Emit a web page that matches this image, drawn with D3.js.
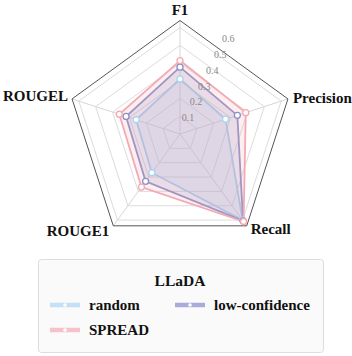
<!DOCTYPE html>
<html>
<head>
<meta charset="utf-8">
<script src="https://cdn.jsdelivr.net/npm/d3@7"></script>
<style>
  body { margin: 0; background: #fff; }
  svg { display: block; }
  svg text { font-family: "Liberation Serif", "Times New Roman", "DejaVu Serif", serif; }
</style>
</head>
<body>
<svg id="chart" width="352" height="356"></svg>
<script>
const metrics = ["F1", "Precision", "Recall", "ROUGE1", "ROUGEL"];
const seriesNames = ["random", "low-confidence", "SPREAD"];
const randomVals = [0.31, 0.27, 0.60, 0.27, 0.26];
const lowConfVals = [0.377, 0.34, 0.605, 0.33, 0.32];
const spreadVals = [0.414, 0.39, 0.61, 0.37, 0.36];
const tickValues = [0.1, 0.2, 0.3, 0.4, 0.5, 0.6];
const legendTitle = "LLaDA";

const series = [
  { name: seriesNames[0], values: randomVals, color: "#a9d5f3", swatch: "#c4e0f7" },
  { name: seriesNames[1], values: lowConfVals, color: "#8c90c8", swatch: "#a9acd9" },
  { name: seriesNames[2], values: spreadVals, color: "#f4a9b4", swatch: "#f6c1c9" }
];

const svg = d3.select("#chart");
const cx = 180, cy = 134, R = 113.5;

const r = d3.scaleLinear().domain([0, 0.64]).range([0, R]);
const angle = d3.scaleBand().domain(metrics).range([0, 2 * Math.PI]).align(0).paddingInner(0).paddingOuter(0);
const ang = m => angle(m);
const pt = (m, v) => [cx + r(v) * Math.sin(ang(m)), cy - r(v) * Math.cos(ang(m))];

const g = svg.append("g");

// grid pentagons
const polyLine = d3.line().curve(d3.curveLinearClosed);
g.selectAll("path.grid")
  .data(tickValues)
  .enter()
  .append("path")
  .attr("d", v => polyLine(metrics.map(m => pt(m, v))))
  .attr("fill", "none")
  .attr("stroke", "#dcdcdc")
  .attr("stroke-width", 1);

// spokes
g.selectAll("line.spoke")
  .data(metrics)
  .enter()
  .append("line")
  .attr("x1", cx)
  .attr("y1", cy)
  .attr("x2", m => pt(m, 0.64)[0])
  .attr("y2", m => pt(m, 0.64)[1])
  .attr("stroke", "#d6d6d6")
  .attr("stroke-width", 1);

// outer frame
g.append("path")
  .attr("d", polyLine(metrics.map(m => pt(m, 0.64))))
  .attr("fill", "none")
  .attr("stroke", "#555")
  .attr("stroke-width", 1);

// series
series.forEach(s => {
  const pts = metrics.map((m, i) => pt(m, s.values[i]));
  g.append("path")
    .attr("d", polyLine(pts))
    .attr("fill", s.color)
    .attr("fill-opacity", 0.2)
    .attr("stroke", s.color)
    .attr("stroke-width", 1.8);
});
series.forEach(s => {
  const pts = metrics.map((m, i) => pt(m, s.values[i]));
  g.selectAll(null)
    .data(pts)
    .enter()
    .append("circle")
    .attr("cx", d => d[0])
    .attr("cy", d => d[1])
    .attr("r", 3)
    .attr("fill", "#fff")
    .attr("stroke", s.color)
    .attr("stroke-width", 1.3);
});

// tick labels along the radial axis
const tickAng = 27 * Math.PI / 180;
g.selectAll("text.tick")
  .data(tickValues)
  .enter()
  .append("text")
  .attr("x", v => cx + r(v) * Math.sin(tickAng))
  .attr("y", v => cy - r(v) * Math.cos(tickAng) + 3)
  .attr("text-anchor", "middle")
  .attr("font-size", 10)
  .attr("fill", "#888")
  .text(d => d);

// axis labels
const labelPos = {
  "F1": { dx: 0, dy: -6, anchor: "middle" },
  "Precision": { dx: 5, dy: 4, anchor: "start" },
  "Recall": { dx: 4, dy: 8, anchor: "start" },
  "ROUGE1": { dx: -4, dy: 10, anchor: "end" },
  "ROUGEL": { dx: -4, dy: 2, anchor: "end" }
};
g.selectAll("text.axis")
  .data(metrics)
  .enter()
  .append("text")
  .attr("x", m => pt(m, 0.64)[0] + labelPos[m].dx)
  .attr("y", m => pt(m, 0.64)[1] + labelPos[m].dy)
  .attr("text-anchor", m => labelPos[m].anchor)
  .attr("font-weight", "bold")
  .attr("font-size", 15)
  .attr("fill", "#111")
  .text(d => d);

// legend
const lg = svg.append("g");
lg.append("rect")
  .attr("x", 38.5)
  .attr("y", 259.5)
  .attr("width", 285)
  .attr("height", 93)
  .attr("rx", 3)
  .attr("fill", "#fafafa")
  .attr("stroke", "#dddddd");
lg.append("text")
  .attr("x", 180)
  .attr("y", 286)
  .attr("text-anchor", "middle")
  .attr("font-weight", "bold")
  .attr("font-size", 15.5)
  .attr("fill", "#111")
  .text(legendTitle);

const legendPos = [[50, 305], [175, 305], [50, 330]];
series.forEach((s, i) => {
  const [x, y] = legendPos[i];
  lg.append("line")
    .attr("x1", x).attr("x2", x + 30)
    .attr("y1", y).attr("y2", y)
    .attr("stroke", s.swatch)
    .attr("stroke-width", 4.5);
  lg.append("circle")
    .attr("cx", x + 15).attr("cy", y).attr("r", 1.8)
    .attr("fill", "#fff");
  lg.append("text")
    .attr("x", x + 39)
    .attr("y", y + 5)
    .attr("font-weight", "bold")
    .attr("font-size", 15)
    .attr("fill", "#111")
    .text(s.name);
});
</script>
</body>
</html>
